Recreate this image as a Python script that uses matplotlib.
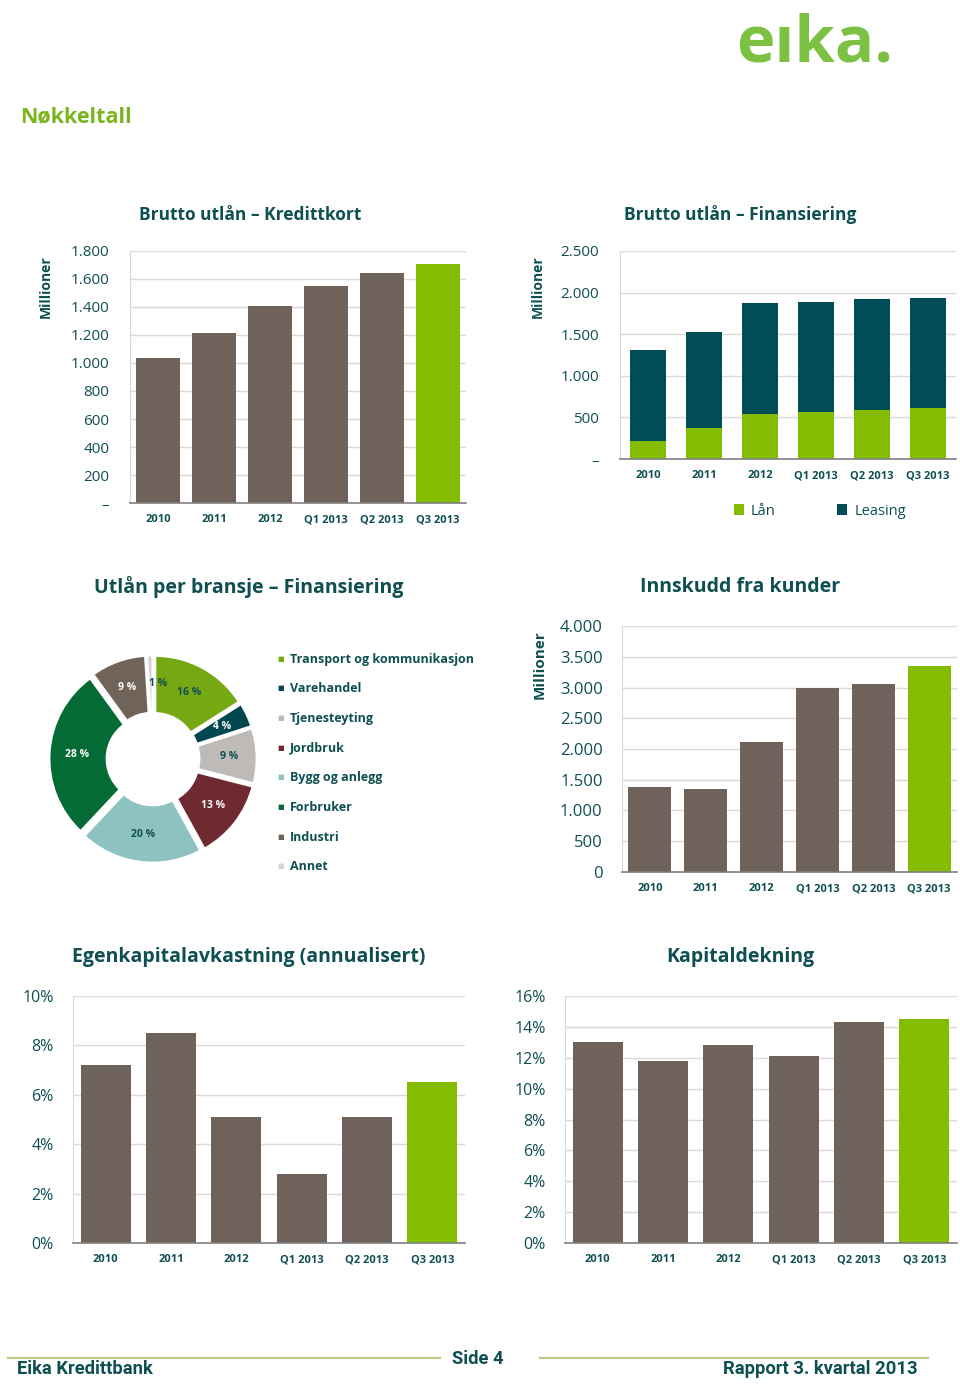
import matplotlib
matplotlib.use("Agg")
import matplotlib.pyplot as plt
from matplotlib.ticker import FuncFormatter, MultipleLocator

W, H = 960, 1385
plt.rcParams['font.family'] = ['Open Sans', 'DejaVu Sans']

# data
periods = ['2010', '2011', '2012', 'Q1 2013', 'Q2 2013', 'Q3 2013']
kredittkort = [1035, 1215, 1410, 1550, 1645, 1705]
fin_laan = [213, 369, 542, 562, 590, 607]
fin_leasing = [1095, 1152, 1336, 1328, 1328, 1327]
innskudd = [1380, 1353, 2120, 2993, 3053, 3350]
egenkapital = [7.2, 8.5, 5.1, 2.8, 5.1, 6.5]
kapitaldekning = [13.0, 11.8, 12.8, 12.1, 14.3, 14.5]
bransjer = ['Transport og kommunikasjon', 'Varehandel', 'Tjenesteyting', 'Jordbruk',
            'Bygg og anlegg', 'Forbruker', 'Industri', 'Annet']
bransje_pct = [16, 4, 9, 13, 20, 28, 9, 1]

BROWN = '#6E625A'
GREEN = '#84BC00'
TEAL = '#004D57'
TXT = '#0E4F52'
GRID = '#D9D9D9'
bransje_col = ['#76A813', '#004750', '#BDBAB8', '#6E2A30', '#8DC2C0', '#056B35', '#70635A', '#D4D4D4']
pct_txtcol = [TXT, 'white', TXT, 'white', TXT, 'white', 'white', TXT]

fig = plt.figure(figsize=(W / 100, H / 100), dpi=100)


def box(x0, y0, x1, y1):
    return [x0 / W, 1 - y1 / H, (x1 - x0) / W, (y1 - y0) / H]


def ftext(x, y, s, **kw):
    fig.text(x / W, 1 - y / H, s, **kw)


def nok(v, zero):
    if v == 0:
        return zero
    return f'{int(v):,}'.replace(',', '.')


def style(ax, ymax, step, fmt, ysize=11, pad=15):
    ax.set_xlim(-0.5, 5.5)
    ax.set_ylim(0, ymax)
    ax.yaxis.set_major_locator(MultipleLocator(step))
    ax.yaxis.set_major_formatter(FuncFormatter(fmt))
    ax.grid(axis='y', color=GRID, lw=1)
    ax.set_axisbelow(True)
    for s in ['top', 'right']:
        ax.spines[s].set_visible(False)
    ax.spines['left'].set_color(GRID)
    ax.spines['bottom'].set_color('#7F7F7F')
    ax.spines['bottom'].set_linewidth(1.2)
    ax.tick_params(length=0)
    ax.tick_params(axis='y', labelsize=ysize, labelcolor=TXT, pad=pad)
    ax.tick_params(axis='x', labelsize=8, labelcolor=TXT, pad=8)
    ax.set_xticks(range(len(periods)))
    ax.set_xticklabels(periods, fontweight='bold')


bar_cols = [BROWN] * 5 + [GREEN]

# Brutto utlån - Kredittkort
ax1 = fig.add_axes(box(130, 251, 466, 503))
ax1.bar(range(6), kredittkort, width=0.77, color=bar_cols)
style(ax1, 1800, 200, lambda v, p: nok(v, '–'), ysize=11, pad=15)
ftext(250, 215, 'Brutto utlån – Kredittkort', ha='center', va='center', fontsize=12.5, fontweight='bold', color=TXT)
ftext(46, 287, 'Millioner', rotation=90, ha='center', va='center', fontsize=10, fontweight='bold', color=TXT)

# Brutto utlån - Finansiering
ax2 = fig.add_axes(box(620, 251, 956, 459))
ax2.bar(range(6), fin_laan, width=0.64, color=GREEN, label='Lån')
ax2.bar(range(6), fin_leasing, width=0.64, bottom=fin_laan, color=TEAL, label='Leasing')
style(ax2, 2500, 500, lambda v, p: nok(v, '–'), ysize=11, pad=15)
ftext(740, 215, 'Brutto utlån – Finansiering', ha='center', va='center', fontsize=12.5, fontweight='bold', color=TXT)
ftext(538, 287, 'Millioner', rotation=90, ha='center', va='center', fontsize=10, fontweight='bold', color=TXT)
ax2.legend(loc='center', bbox_to_anchor=(0.595, -0.25), ncol=2, frameon=False, fontsize=10.5,
           handlelength=0.7, handleheight=0.7, handletextpad=0.5, columnspacing=4.2, labelcolor=TXT)

# Utlån per bransje - Finansiering
ax3 = fig.add_axes(box(33, 639, 273, 879))
wedges, _, autotexts = ax3.pie(
    bransje_pct, colors=bransje_col, startangle=90, counterclock=False,
    explode=[0.04] * len(bransje_pct), radius=1.0,
    wedgeprops=dict(width=0.58, edgecolor='white', linewidth=2),
    autopct=lambda p: f'{p:.0f} %', pctdistance=0.72,
    textprops=dict(fontsize=7.5, fontweight='bold'))
for t, c in zip(autotexts, pct_txtcol):
    t.set_color(c)
# the 1 % label sits just right of its thin slice
autotexts[-1].set_x(autotexts[-1].get_position()[0] + 0.08)
ax3.set_xlim(-1.2, 1.2)
ax3.set_ylim(-1.2, 1.2)
ax3.set_aspect('equal')
ftext(249, 587, 'Utlån per bransje – Finansiering', ha='center', va='center', fontsize=14, fontweight='bold', color=TXT)
for i, (name, c) in enumerate(zip(bransjer, bransje_col)):
    y = 659 + i * 29.7
    ftext(277, y, '■', ha='left', va='center', fontsize=5, color=c)
    ftext(290, y, name, ha='left', va='center', fontsize=9, fontweight='bold', color=TXT)

# Innskudd fra kunder
ax4 = fig.add_axes(box(622, 626, 957, 872))
ax4.bar(range(6), innskudd, width=0.77, color=bar_cols)
style(ax4, 4000, 500, lambda v, p: nok(v, '0'), ysize=12, pad=14)
ftext(740, 587, 'Innskudd fra kunder', ha='center', va='center', fontsize=14, fontweight='bold', color=TXT)
ftext(540, 665, 'Millioner', rotation=90, ha='center', va='center', fontsize=11, fontweight='bold', color=TXT)

# Egenkapitalavkastning
ax5 = fig.add_axes(box(73, 996, 465, 1243))
ax5.bar(range(6), egenkapital, width=0.77, color=bar_cols)
style(ax5, 10, 2, lambda v, p: f'{v:.0f}%', ysize=11.5, pad=14)
ftext(249, 957, 'Egenkapitalavkastning (annualisert)', ha='center', va='center', fontsize=14, fontweight='bold', color=TXT)

# Kapitaldekning
ax6 = fig.add_axes(box(565, 996, 957, 1243))
ax6.bar(range(6), kapitaldekning, width=0.77, color=bar_cols)
style(ax6, 16, 2, lambda v, p: f'{v:.0f}%', ysize=11.5, pad=14)
ftext(740, 957, 'Kapitaldekning', ha='center', va='center', fontsize=14, fontweight='bold', color=TXT)

# header / footer
ftext(20, 117, 'Nøkkeltall', ha='left', va='center', fontsize=15.5, fontweight='bold', color='#7AB51D')
ftext(893, 62, 'eıka.', ha='right', va='baseline', fontsize=47, fontweight='bold', color='#7DC142')

LINE = '#B9CB7E'
fig.add_artist(plt.Line2D([8 / W, 440 / W], [1 - 1358 / H] * 2, color=LINE, lw=1.5))
fig.add_artist(plt.Line2D([540 / W, 928 / W], [1 - 1358 / H] * 2, color=LINE, lw=1.5))
foot = dict(fontsize=13.2, fontweight='bold', color=TXT, family=['Roboto', 'DejaVu Sans'])
ftext(478, 1359, 'Side 4', ha='center', va='center', **foot)
ftext(17, 1369, 'Eika Kredittbank', ha='left', va='center', **foot)
ftext(918, 1369, 'Rapport 3. kvartal 2013', ha='right', va='center', **foot)

fig.savefig('out.png', dpi=100)
